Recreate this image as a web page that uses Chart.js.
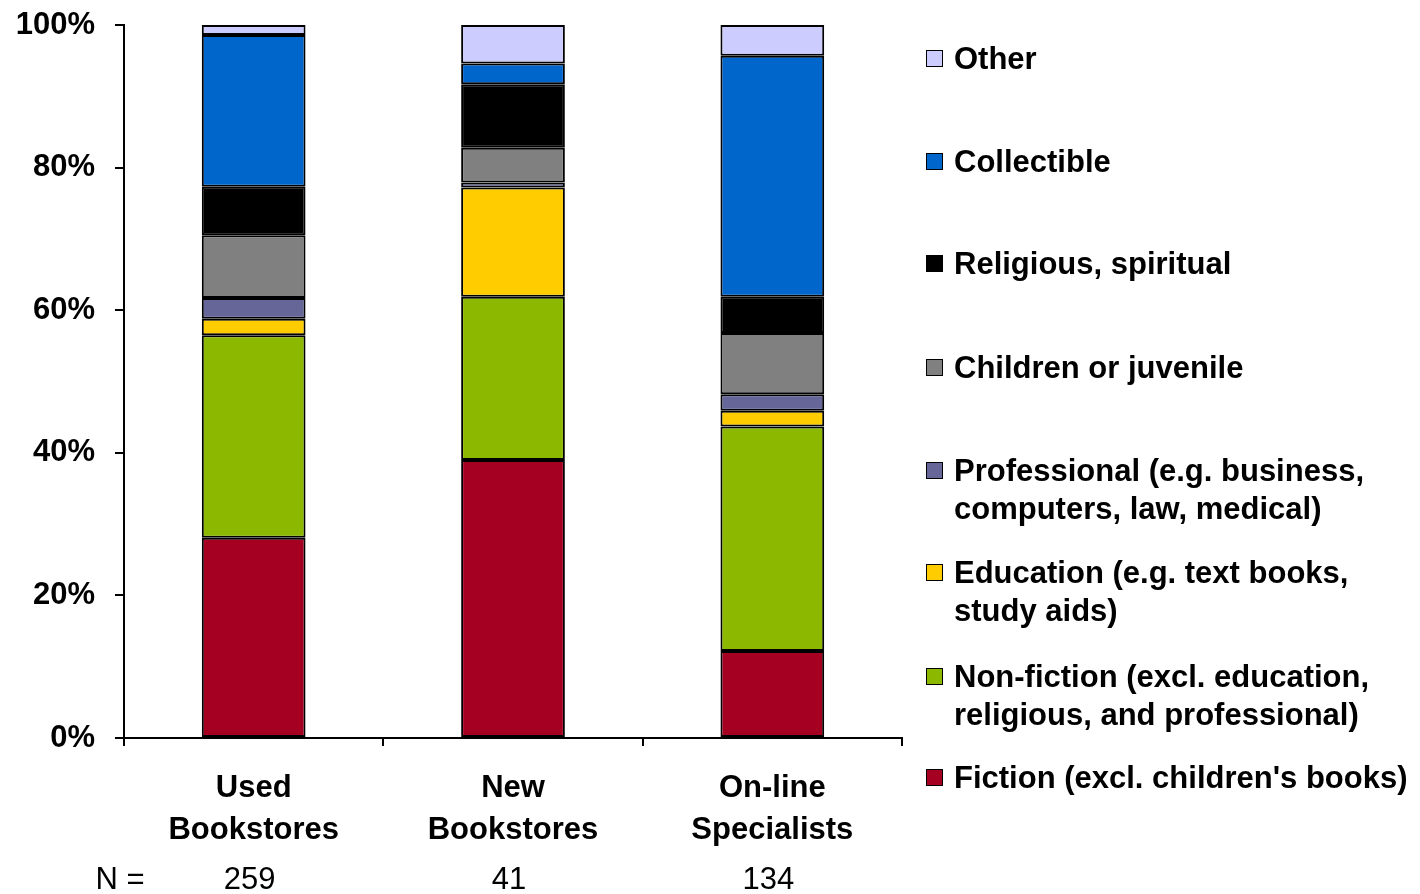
<!DOCTYPE html>
<html>
<head>
<meta charset="utf-8">
<script src="https://cdn.jsdelivr.net/npm/chart.js@4/dist/chart.umd.min.js"></script>
<style>
  body { margin: 0; background: #fff; }
  #wrap { position: relative; width: 1420px; height: 894px; }
  #legend { position: absolute; left: 0; top: 0; font-family: "Liberation Sans", Arial, sans-serif; font-weight: bold; font-size: 31px; color: #000; }
  .item { position: absolute; left: 926px; line-height: 38px; white-space: nowrap; }
  .sw { position: absolute; left: 0; top: 10px; width: 15px; height: 15px; border: 1.5px solid #000; }
  .txt { position: absolute; left: 28px; top: 0; }
</style>
</head>
<body>
<div id="wrap">
  <canvas id="chart" width="1420" height="894"></canvas>
  <div id="legend"></div>
</div>
<script>
// categories and sample sizes
const categories = [['Used', 'Bookstores'], ['New', 'Bookstores'], ['On-line', 'Specialists']];
const sampleSizes = ['259', '41', '134'];

// shares in %, bottom to top
const fiction = [28.1, 39.0, 12.2];
const nonFiction = [28.4, 22.9, 31.5];
const education = [2.3, 15.3, 2.2];
const professional = [2.9, 0.7, 2.3];
const children = [8.8, 4.9, 8.6];
const religious = [6.8, 8.9, 5.1];
const collectible = [21.3, 2.9, 33.8];
const other = [1.4, 5.4, 4.3];

const yTicks = [0, 20, 40, 60, 80, 100];

const series = [
    { label: 'Fiction (excl. children\'s books)', lines: ['Fiction (excl. children\'s books)'], data: fiction, color: '#A50021' },
    { label: 'Non-fiction', lines: ['Non-fiction (excl. education,', 'religious, and professional)'], data: nonFiction, color: '#8CB800' },
    { label: 'Education', lines: ['Education (e.g. text books,', 'study aids)'], data: education, color: '#FFCC00' },
    { label: 'Professional', lines: ['Professional (e.g. business,', 'computers, law, medical)'], data: professional, color: '#666699' },
    { label: 'Children or juvenile', lines: ['Children or juvenile'], data: children, color: '#808080' },
    { label: 'Religious, spiritual', lines: ['Religious, spiritual'], data: religious, color: '#000000' },
    { label: 'Collectible', lines: ['Collectible'], data: collectible, color: '#0066CC' },
    { label: 'Other', lines: ['Other'], data: other, color: '#CCCCFF' }
];

Chart.defaults.font.family = '"Liberation Sans", Arial, sans-serif';
Chart.defaults.color = '#000';

// N = row under the axis labels
const sampleRow = {
    id: 'sampleRow',
    afterDraw(chart) {
        const ctx = chart.ctx;
        const x = chart.scales.x;
        ctx.save();
        ctx.font = '31px "Liberation Sans", Arial, sans-serif';
        ctx.fillStyle = '#000';
        ctx.textAlign = 'center';
        ctx.textBaseline = 'middle';
        ctx.fillText('N =', 120, 880);
        sampleSizes.forEach((n, i) => {
            ctx.fillText(n, x.getPixelForValue(i) - 4, 880);
        });
        ctx.restore();
    }
};

new Chart(document.getElementById('chart'), {
    type: 'bar',
    data: {
        labels: categories,
        datasets: series.map(s => ({
            label: s.label,
            data: s.data,
            backgroundColor: s.color,
            borderColor: '#000',
            borderWidth: 2,
            borderSkipped: false,
            barPercentage: 0.4,
            categoryPercentage: 1
        }))
    },
    options: {
        responsive: false,
        animation: false,
        layout: { padding: { top: 25, right: 518, left: 0, bottom: 0 } },
        plugins: { legend: { display: false }, tooltip: { enabled: false } },
        scales: {
            x: {
                stacked: true,
                afterFit: s => { s.height = 156; s.paddingLeft = 0; s.paddingRight = 0; },
                border: { color: '#000', width: 2 },
                grid: { drawOnChartArea: false, color: '#000', lineWidth: 2, tickLength: 8, offset: true },
                ticks: { font: { size: 31, weight: 'bold', lineHeight: 1.35 }, padding: 22, maxRotation: 0 }
            },
            y: {
                stacked: true,
                min: 0,
                max: 100,
                afterFit: s => { s.width = 124; s.paddingTop = 0; s.paddingBottom = 0; },
                afterBuildTicks: s => { s.ticks = yTicks.map(v => ({ value: v })); },
                border: { color: '#000', width: 2 },
                grid: { drawOnChartArea: false, color: '#000', lineWidth: 2, tickLength: 9 },
                ticks: { font: { size: 31, weight: 'bold' }, padding: 20, callback: v => v + '%' }
            }
        }
    },
    plugins: [sampleRow]
});

// legend, top to bottom (reverse of stack order)
const legendTops = [40, 143, 245, 349, 452, 554, 658, 759];
const legend = document.getElementById('legend');
series.slice().reverse().forEach((s, i) => {
    const item = document.createElement('div');
    item.className = 'item';
    item.style.top = legendTops[i] + 'px';
    const sw = document.createElement('div');
    sw.className = 'sw';
    sw.style.background = s.color;
    const txt = document.createElement('div');
    txt.className = 'txt';
    txt.innerHTML = s.lines.join('<br>');
    item.appendChild(sw);
    item.appendChild(txt);
    legend.appendChild(item);
});
</script>
</body>
</html>
